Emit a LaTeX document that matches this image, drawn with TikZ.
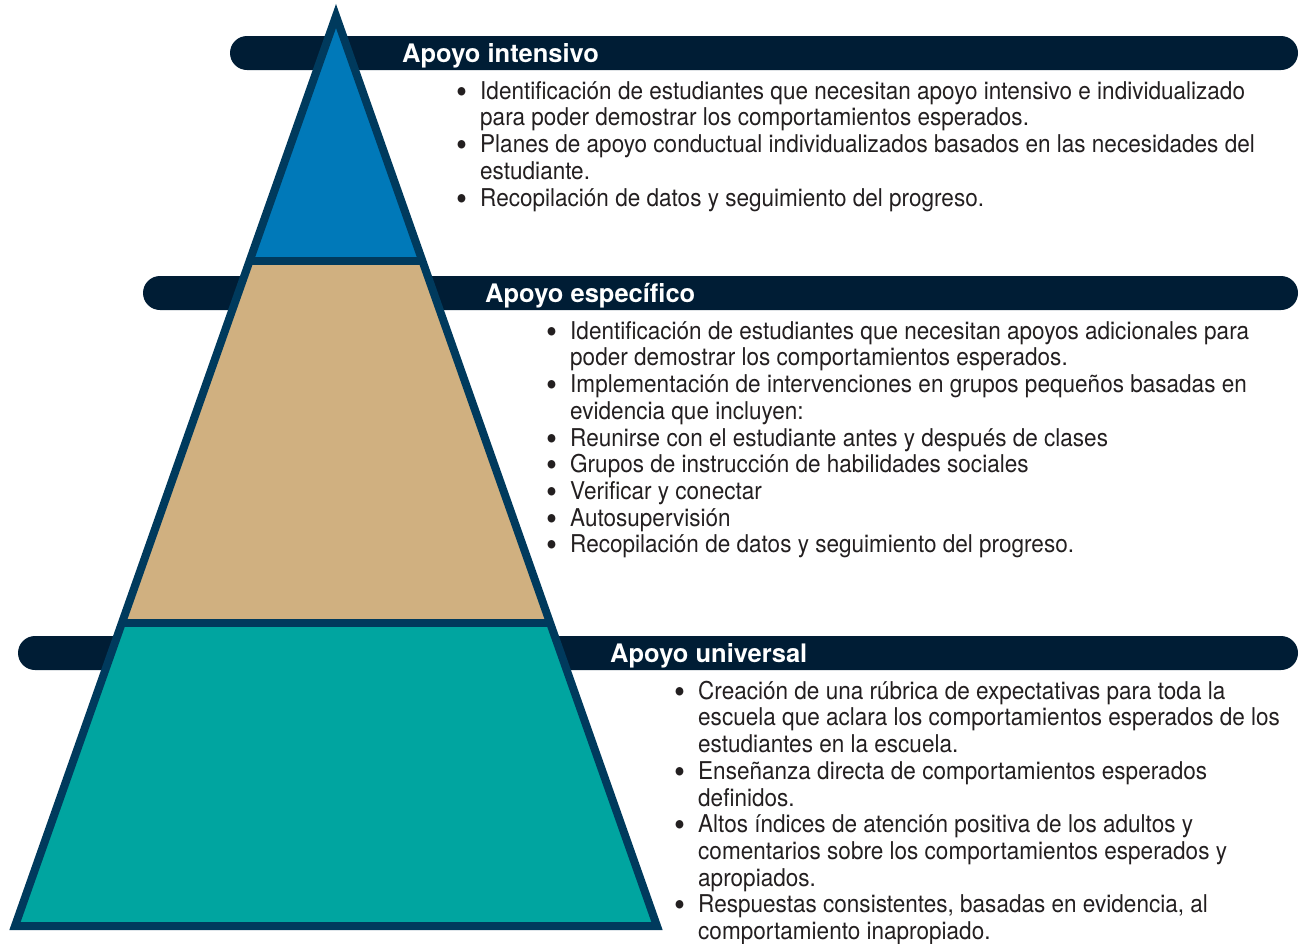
\documentclass[tikz,border=0pt]{standalone}
\usepackage{fontspec}
\setmainfont{TeX Gyre Heros}
\newfontfamily\bodyf{TeX Gyre Heros}[FakeStretch=0.92]
\newfontfamily\hdrf{TeX Gyre Heros}
\definecolor{barc}{HTML}{001D35}
\definecolor{outc}{HTML}{003A5D}
\definecolor{tierA}{HTML}{0079B9}
\definecolor{tierB}{HTML}{D0B080}
\definecolor{tierC}{HTML}{00A5A0}
\definecolor{txtc}{HTML}{231F20}
\newcommand\bl{\llap{{\fontsize{34}{0}\selectfont\raisebox{-4pt}{\textbullet}}\hspace{13pt}}}
\begin{document}
\begin{tikzpicture}[x=1pt,y=-1pt,
  bar/.style={fill=barc, rounded corners=17pt},
  outline/.style={draw=outc, line width=8pt, line join=miter},
  hdr/.style={anchor=base west, inner sep=0pt, text=white, font=\hdrf\bfseries\fontsize{25.5}{30}\selectfont},
  body/.style={anchor=north west, inner sep=0pt, align=left, text=txtc, font=\bodyf\fontsize{24.5}{26.7}\selectfont}]
\useasboundingbox (0,0) rectangle (1299,943);
% bars
\fill[bar] (230,36) rectangle (1298,70);
\fill[bar] (143,276) rectangle (1298,310);
\fill[bar] (18,636) rectangle (1298,670);
% pyramid
\coordinate (A) at (336,16);
\coordinate (BL) at (15,926);
\coordinate (BR) at (657,926);
\begin{scope}
  \clip (A) -- (BL) -- (BR) -- cycle;
  \fill[tierA] (0,0) rectangle (700,261);
  \fill[tierB] (0,261) rectangle (700,623);
  \fill[tierC] (0,623) rectangle (700,943);
  \draw[outline] (0,261) -- (700,261);
  \draw[outline] (0,623) -- (700,623);
\end{scope}
\draw[outline] (A) -- (BL) -- (BR) -- cycle;
% headers
\node[hdr] (h1) at (402,62.5) {Apoyo intensivo};
\node[hdr] (h2) at (485,302.5) {Apoyo específico};
\node[hdr] (h3) at (610,662.5) {Apoyo universal};
% bodies
\node[body] (t1) at (480,77) {\rule{0pt}{22pt}\bl Identificación de estudiantes que necesitan apoyo intensivo e individualizado\\
para poder demostrar los comportamientos esperados.\\
\bl Planes de apoyo conductual individualizados basados en las necesidades del\\
estudiante.\\
\bl Recopilación de datos y seguimiento del progreso.};
\node[body] (t2) at (570,317) {\rule{0pt}{22pt}\bl Identificación de estudiantes que necesitan apoyos adicionales para\\
poder demostrar los comportamientos esperados.\\
\bl Implementación de intervenciones en grupos pequeños basadas en\\
evidencia que incluyen:\\
\bl Reunirse con el estudiante antes y después de clases\\
\bl Grupos de instrucción de habilidades sociales\\
\bl Verificar y conectar\\
\bl Autosupervisión\\
\bl Recopilación de datos y seguimiento del progreso.};
\node[body] (t3) at (698,677) {\rule{0pt}{22pt}\bl Creación de una rúbrica de expectativas para toda la\\
escuela que aclara los comportamientos esperados de los\\
estudiantes en la escuela.\\
\bl Enseñanza directa de comportamientos esperados\\
definidos.\\
\bl Altos índices de atención positiva de los adultos y\\
comentarios sobre los comportamientos esperados y\\
apropiados.\\
\bl Respuestas consistentes, basadas en evidencia, al\\
comportamiento inapropiado.};
\end{tikzpicture}
\end{document}
